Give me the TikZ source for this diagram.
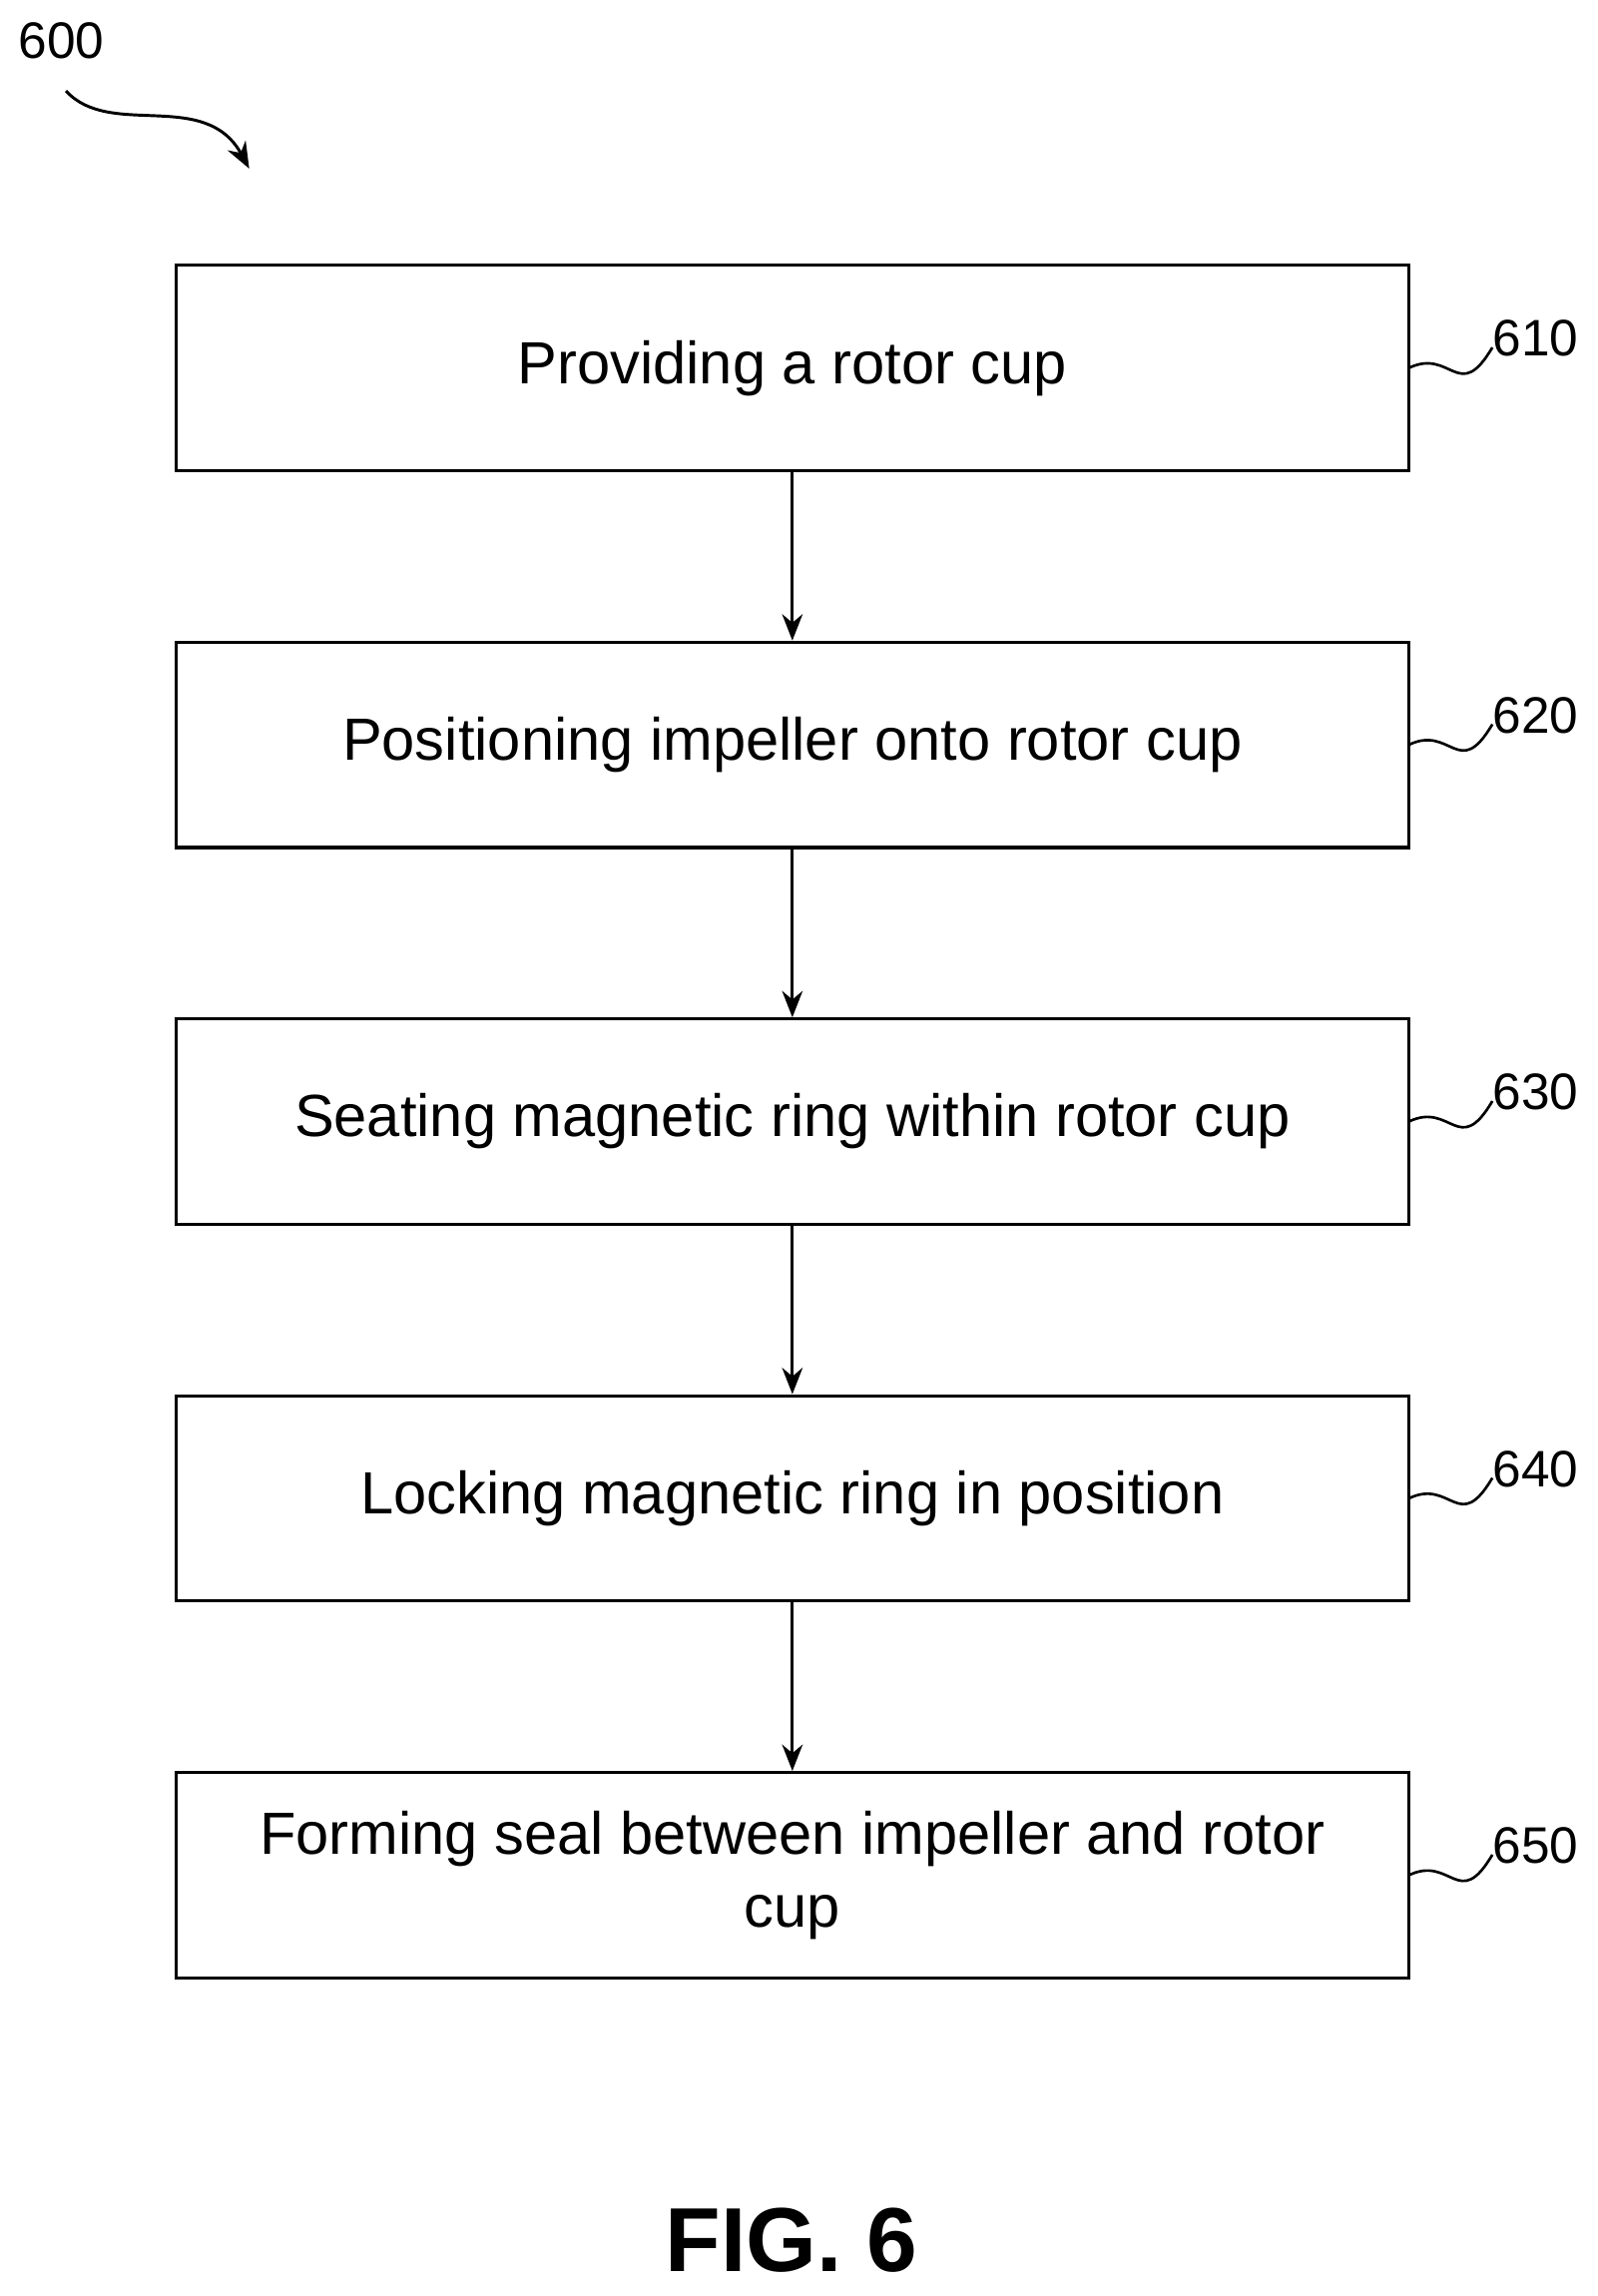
\documentclass[tikz,border=0pt]{standalone}
\usepackage{fontspec}
\setmainfont{Liberation Sans}
\usetikzlibrary{arrows.meta}
\begin{document}
\begin{tikzpicture}[x=0.5pt,y=-0.5pt,
  box/.style={draw,line width=1.1pt,minimum width=841*0.5pt,minimum height=140*0.5pt,align=center,font=\fontsize{20.3}{25}\selectfont,inner sep=0pt},
  arr/.style={-{Stealth[length=9pt,width=7pt]},line width=1pt},
  lbl/.style={font=\fontsize{17.5}{20}\selectfont,anchor=west,inner sep=0pt},
  sq/.style={line width=0.9pt}]
\useasboundingbox (0,0) rectangle (1090,1566);
\node[font=\fontsize{17.5}{20}\selectfont] (n600) at (42,28) {600};
\coordinate (s600) at (45,62);
\coordinate (e600) at (170,115);
\draw[arr] (s600) .. controls (75,95) and (140,60) .. (e600);
\foreach \i/\y/\t in {1/251/{Providing a rotor cup},2/508/{Positioning impeller onto rotor cup},3/765/{Seating magnetic ring within rotor cup},4/1022/{Locking magnetic ring in position},5/1279/{Forming seal between impeller and rotor\\cup}}{
  \node[box] (b\i) at (540.5,\y) {\t};
  \coordinate (q\i) at (961,\y);
  \coordinate (r\i) at (1018,\y-14);
  \draw[sq] (q\i) .. controls (990,\y-14) and (995,\y+25) .. (r\i);
  \node[lbl] (l\i) at (1018,\y-20) {6\i0};
}
\draw[arr] (b1) -- (b2);
\draw[arr] (b2) -- (b3);
\draw[arr] (b3) -- (b4);
\draw[arr] (b4) -- (b5);
\node[font=\bfseries\fontsize{31}{34}\selectfont] (fig) at (540,1528) {FIG. 6};
\end{tikzpicture}
\end{document}
